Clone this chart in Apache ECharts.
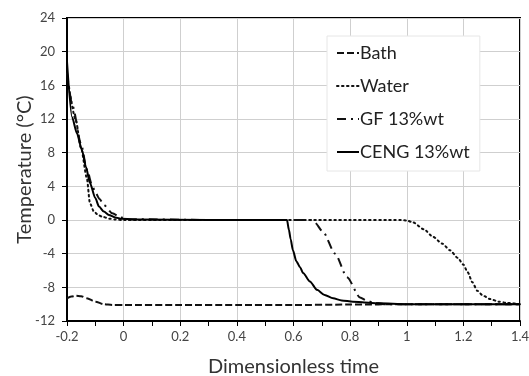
<!DOCTYPE html>
<html><head><meta charset="utf-8">
<script src="https://cdn.jsdelivr.net/npm/echarts@6/dist/echarts.min.js"></script>
<style>html,body{margin:0;padding:0;background:#fff}#c{width:529px;height:376px}</style>
</head><body><div id="c"></div>
<script>
const seriesNames = ['Bath', 'Water', 'GF 13%wt', 'CENG 13%wt'];
const xTicks = [-0.2, 0, 0.2, 0.4, 0.6, 0.8, 1, 1.2, 1.4];
const yTicks = [-12, -8, -4, 0, 4, 8, 12, 16, 20, 24];

const bathT = [-0.2, -0.185, -0.17, -0.15, -0.13, -0.1, -0.07, -0.04, 0, 0.2, 0.4, 0.6, 0.8, 1.0, 1.2, 1.4];
const bathY = [-9.3, -9.1, -9.0, -9.05, -9.3, -9.7, -10.0, -10.1, -10.1, -10.1, -10.1, -10.1, -10.05, -10.0, -10.0, -10.0];

const waterT = [-0.193, -0.17, -0.15, -0.13, -0.119, -0.105, -0.09, -0.076, -0.05, -0.03, 0, 0.4, 0.8, 0.98, 1.0, 1.023, 1.06, 1.093, 1.125, 1.153, 1.18, 1.2, 1.215, 1.232, 1.249, 1.27, 1.295, 1.325, 1.355, 1.4];
const waterY = [15.8, 12.0, 8.5, 5.0, 2.0, 1.0, 0.6, 0.4, 0.15, 0.05, 0, 0, 0, 0, -0.05, -0.3, -1.1, -2.0, -2.8, -3.6, -4.5, -5.3, -6.2, -7.4, -8.4, -9.0, -9.4, -9.7, -9.85, -10.0];

const gfT = [-0.2, -0.18, -0.15, -0.13, -0.11, -0.1, -0.085, -0.07, -0.04, -0.01, 0.02, 0.3, 0.6, 0.66, 0.675, 0.704, 0.747, 0.789, 0.835, 0.86, 0.88, 0.92, 1.0, 1.4];
const gfY = [17.5, 13.5, 9.0, 6.0, 4.0, 3.3, 2.5, 1.8, 0.8, 0.3, 0.1, 0, 0, 0, -0.3, -1.4, -4.0, -6.8, -9.2, -9.6, -9.8, -10.0, -10.0, -10.0];

const cengT = [-0.2, -0.182, -0.165, -0.147, -0.133, -0.119, -0.1, -0.087, -0.07, -0.052, -0.03, -0.006, 0.05, 0.3, 0.577, 0.584, 0.59, 0.598, 0.61, 0.623, 0.634, 0.658, 0.683, 0.71, 0.74, 0.77, 0.81, 0.85, 0.9, 1.0, 1.4];
const cengY = [18.8, 12.2, 10.3, 8.3, 6.3, 4.4, 2.6, 1.6, 1.0, 0.6, 0.3, 0.15, 0.05, 0, 0, -1.2, -2.3, -3.6, -4.9, -5.6, -6.3, -7.3, -8.3, -8.9, -9.3, -9.55, -9.7, -9.8, -9.9, -10.0, -10.0];

function pairs(a, b) { return a.map((v, i) => [v, b[i]]); }

const chart = echarts.init(document.getElementById('c'));
const font = 'Lato, "Open Sans", sans-serif';
const lineBase = { type: 'line', showSymbol: false, symbol: 'none', smooth: 0.25, smoothMonotone: 'x', animation: false };
chart.setOption({
  animation: false,
  grid: { left: 67, right: 9, top: 18, bottom: 55, containLabel: false, outerBoundsMode: 'none',
    show: true, borderColor: '#000', borderWidth: 2, backgroundColor: '#fff' },
  legend: {
    orient: 'vertical', left: 327, top: 36,
    padding: [8, 10, 10, 9], itemGap: 15, itemWidth: 22, itemHeight: 19,
    backgroundColor: '#fff', borderColor: '#e6e6e6', borderWidth: 1,
    itemStyle: { color: 'rgba(0,0,0,0)', borderWidth: 0, opacity: 0 },
    textStyle: { fontFamily: font, fontSize: 18, color: '#222', padding: [0, 0, 0, -4] },
    data: seriesNames
  },
  xAxis: {
    type: 'value', min: -0.2, max: 1.4, interval: 0.2,
    name: 'Dimensionless time', nameLocation: 'middle', nameGap: 36,
    nameTextStyle: { fontFamily: font, fontSize: 20, color: '#333' },
    axisLine: { onZero: false, lineStyle: { color: '#000', width: 2 } },
    axisTick: { show: true, inside: false, length: 5, lineStyle: { color: '#000' } },
    minorTick: { show: true, splitNumber: 2, length: 5, lineStyle: { color: '#000' } },
    axisLabel: { fontFamily: font, fontSize: 13, color: '#444', margin: 9,
      formatter: v => String(Math.round(v * 10) / 10) },
    splitLine: { show: true, lineStyle: { color: '#cfcfcf', width: 1 } }
  },
  yAxis: {
    type: 'value', min: -12, max: 24, interval: 4,
    name: 'Temperature (°C)', nameLocation: 'middle', nameGap: 32, nameMoveOverlap: false,
    nameTextStyle: { fontFamily: font, fontSize: 20, color: '#333' },
    axisLine: { onZero: false, lineStyle: { color: '#000', width: 2 } },
    axisTick: { show: true, inside: false, length: 5, lineStyle: { color: '#000' } },
    axisLabel: { fontFamily: font, fontSize: 13, color: '#444', margin: 12 },
    splitLine: { show: true, lineStyle: { color: '#cfcfcf', width: 1 } }
  },
  series: [
    Object.assign({}, lineBase, { name: seriesNames[0], data: pairs(bathT, bathY),
      lineStyle: { color: '#111', width: 2, type: [7, 3] }, itemStyle: { color: '#111' } }),
    Object.assign({}, lineBase, { name: seriesNames[1], data: pairs(waterT, waterY),
      lineStyle: { color: '#111', width: 2, type: [1.5, 3.5], cap: 'round' }, itemStyle: { color: '#111' } }),
    Object.assign({}, lineBase, { name: seriesNames[2], data: pairs(gfT, gfY),
      lineStyle: { color: '#111', width: 2, type: [9, 5, 2, 5] }, itemStyle: { color: '#111' } }),
    Object.assign({}, lineBase, { name: seriesNames[3], data: pairs(cengT, cengY),
      lineStyle: { color: '#000', width: 2, type: 'solid' }, itemStyle: { color: '#000' } })
  ]
});
</script></body></html>
